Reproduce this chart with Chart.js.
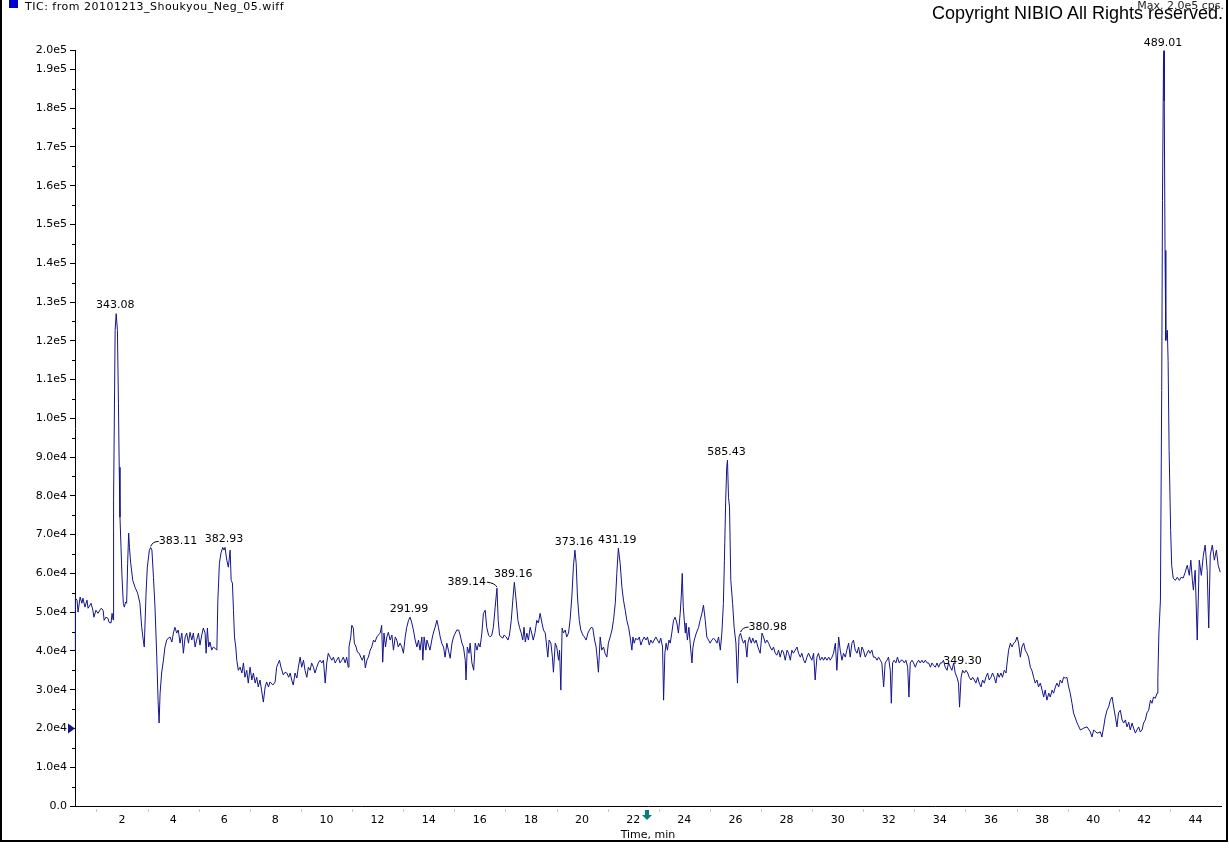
<!DOCTYPE html>
<html><head><meta charset="utf-8">
<script src="https://cdn.jsdelivr.net/npm/chart.js@4.4.1/dist/chart.umd.min.js"></script>
<style>
html,body{margin:0;padding:0;background:#fff;}
#wrap{position:relative;width:1229px;height:862px;overflow:hidden;background:#fff;}
#frame{position:absolute;left:0;top:0;width:1224px;height:840px;border-left:2px solid #000;border-right:2px solid #000;border-bottom:2px solid #000;}
#c{position:absolute;left:0;top:0;}
#sq{position:absolute;left:9px;top:0px;width:9px;height:8px;background:#0000cc;}
#tic{position:absolute;left:25px;top:0px;font:11px "DejaVu Sans",sans-serif;color:#000;line-height:14px;letter-spacing:0.5px;}
#copy{position:absolute;left:932px;top:2px;font:18px "Liberation Sans",Arial,sans-serif;color:#000;line-height:22px;white-space:nowrap;}
#max{position:absolute;right:5px;top:-1px;font:11px "DejaVu Sans",sans-serif;color:#222;line-height:14px;white-space:nowrap;}
</style></head>
<body>
<div id="wrap">
<canvas id="c" width="1229" height="862" style="width:1229px;height:862px"></canvas>
<div id="frame"></div>
<div id="sq"></div>
<div id="tic">TIC: from 20101213_Shoukyou_Neg_05.wiff</div>
<div id="copy">Copyright NIBIO All Rights reserved.</div>
<div id="max">Max. 2.0e5 cps.</div>
</div>
<script>
// [time (min), intensity (cps)]
const tracePoints = [
[0.16,39900],[0.17,47000],[0.18,53600],[0.24,53100],[0.28,50000],[0.36,53900],[0.43,52300],[0.47,53600],[0.55,51300],[0.63,53100],[0.67,51000],
[0.79,52300],[0.86,50500],[0.90,48700],[0.98,50500],[1.06,49700],[1.18,51000],[1.26,50500],[1.30,47900],[1.37,48700],[1.45,48400],
[1.49,47400],[1.57,47200],[1.61,49700],[1.65,48000],[1.67,78900],[1.73,122700],[1.77,127000],[1.82,122700],[1.86,103900],[1.89,87400],
[1.92,74500],[1.96,66700],[2.00,59000],[2.05,52300],[2.09,51300],[2.14,52600],[2.18,52300],[2.22,62600],[2.26,70400],[2.29,66700],
[2.34,62600],[2.42,58200],[2.51,56400],[2.61,54900],[2.70,52300],[2.77,46100],[2.83,42800],[2.87,41000],[2.94,54900],[2.99,61600],
[3.07,66000],[3.12,66700],[3.17,66000],[3.23,59000],[3.29,51300],[3.36,38400],[3.41,27300],[3.45,21400],[3.49,29100],[3.55,34300],
[3.62,37600],[3.68,41000],[3.75,42800],[3.81,43300],[3.88,43600],[3.95,42300],[4.01,44600],[4.07,46100],[4.14,44600],[4.20,45400],
[4.27,42000],[4.34,44600],[4.40,39400],[4.47,43600],[4.53,44600],[4.60,42000],[4.66,44800],[4.73,42800],[4.79,44600],[4.86,41000],
[4.92,42800],[4.99,44600],[5.05,41500],[5.12,44100],[5.18,45900],[5.25,44600],[5.29,39400],[5.34,45900],[5.39,41000],[5.44,42300],
[5.51,40200],[5.57,41000],[5.64,40700],[5.71,40200],[5.75,53100],[5.81,62600],[5.87,65200],[5.94,66700],[5.99,66000],[6.03,66700],
[6.10,63400],[6.16,61600],[6.23,66000],[6.27,58200],[6.32,57500],[6.36,50500],[6.40,43600],[6.45,41000],[6.49,37600],[6.55,35000],
[6.62,35800],[6.69,34300],[6.75,36900],[6.81,33200],[6.88,35000],[6.94,31700],[7.01,35800],[7.08,32500],[7.14,34300],[7.21,31700],
[7.27,33200],[7.33,30700],[7.40,32500],[7.53,26800],[7.60,30700],[7.66,32000],[7.73,30700],[7.79,32000],[7.90,31200],[7.99,32000],
[8.05,35800],[8.16,37600],[8.22,35800],[8.31,33800],[8.38,34500],[8.45,34300],[8.52,33200],[8.58,34300],[8.64,32500],[8.70,31200],
[8.77,34300],[8.84,33000],[8.90,35800],[8.97,38400],[9.03,35800],[9.10,37600],[9.16,35000],[9.23,33200],[9.29,35800],[9.36,35000],
[9.42,36900],[9.49,35800],[9.55,34300],[9.62,35800],[9.68,36900],[9.75,37600],[9.82,36900],[9.88,37600],[9.95,31700],[10.01,36900],
[10.07,39400],[10.14,38400],[10.21,37600],[10.27,38400],[10.34,36900],[10.40,37600],[10.47,38400],[10.53,36900],[10.60,37600],[10.66,38400],
[10.73,36900],[10.79,38400],[10.85,35800],[10.88,41000],[10.95,43600],[10.99,46600],[11.05,45900],[11.09,42000],[11.16,41000],[11.21,39700],
[11.28,39400],[11.34,38400],[11.40,37600],[11.47,38900],[11.52,35600],[11.58,37600],[11.64,38400],[11.71,40200],[11.77,41000],[11.84,42800],
[11.90,42300],[11.97,43600],[12.03,44100],[12.10,44600],[12.16,46600],[12.20,37100],[12.25,44600],[12.31,41000],[12.36,43600],[12.42,44800],
[12.49,42800],[12.56,44100],[12.62,40200],[12.69,43600],[12.75,42800],[12.81,41000],[12.88,42000],[12.95,41000],[13.01,39400],[13.08,43600],
[13.14,46100],[13.21,47900],[13.27,48700],[13.34,47200],[13.40,45400],[13.47,42800],[13.54,41000],[13.60,42800],[13.66,40200],[13.73,43600],
[13.77,37600],[13.82,43600],[13.89,40200],[13.93,42800],[13.99,41500],[14.05,40200],[14.12,42800],[14.18,44600],[14.25,46100],[14.32,47900],
[14.38,46100],[14.45,43600],[14.51,42000],[14.58,41000],[14.64,38400],[14.71,42000],[14.77,40200],[14.84,38100],[14.91,42000],[14.97,43600],
[15.04,44600],[15.10,45400],[15.17,45400],[15.23,44100],[15.30,42000],[15.36,41000],[15.43,37600],[15.46,32500],[15.51,41000],[15.58,39400],
[15.62,42000],[15.69,36900],[15.76,35000],[15.82,42000],[15.89,40200],[15.95,42000],[16.01,41000],[16.08,44600],[16.14,49700],[16.21,50500],
[16.27,46100],[16.34,44100],[16.41,43600],[16.47,44100],[16.53,46100],[16.60,51300],[16.67,56200],[16.72,47900],[16.77,44100],[16.83,43600],
[16.90,43300],[16.95,44100],[17.03,43600],[17.10,42800],[17.16,44100],[17.23,47900],[17.29,53100],[17.35,57700],[17.42,53100],[17.49,47900],
[17.55,46100],[17.62,44600],[17.68,42800],[17.73,46100],[17.78,42300],[17.84,44600],[17.90,42800],[17.97,46100],[18.03,44600],[18.09,42800],
[18.16,44800],[18.23,47900],[18.29,47200],[18.36,49700],[18.43,47200],[18.49,45400],[18.56,44600],[18.62,41000],[18.66,38400],[18.71,42800],
[18.78,42000],[18.84,38400],[18.88,34500],[18.95,42000],[19.01,41000],[19.08,37600],[19.12,40200],[19.17,29900],[19.22,45900],[19.27,44600],
[19.34,45400],[19.40,43600],[19.47,44600],[19.53,47900],[19.60,53900],[19.66,61600],[19.72,66000],[19.77,62600],[19.82,53900],[19.89,47900],
[19.95,45400],[20.03,44100],[20.09,43600],[20.16,42800],[20.23,44600],[20.29,45400],[20.36,46100],[20.42,45900],[20.49,42800],[20.55,41000],
[20.60,37600],[20.64,34500],[20.71,43600],[20.77,40200],[20.84,41000],[20.90,39400],[20.97,38400],[21.03,42000],[21.10,43600],[21.17,45400],
[21.23,47900],[21.30,52300],[21.36,60000],[21.42,66500],[21.49,62600],[21.56,56400],[21.62,53100],[21.69,50500],[21.75,47900],[21.82,46100],
[21.88,43600],[21.95,40200],[21.99,43600],[22.04,42000],[22.10,43300],[22.17,42800],[22.24,43600],[22.30,41500],[22.37,42800],[22.43,43600],
[22.50,42800],[22.56,43600],[22.63,41500],[22.69,42800],[22.76,42000],[22.82,42800],[22.89,43600],[22.95,42800],[23.02,42000],[23.08,43300],
[23.15,41000],[23.19,27300],[23.24,39400],[23.29,42000],[23.34,40200],[23.40,42800],[23.45,42000],[23.51,44600],[23.58,47900],[23.64,48700],
[23.71,47200],[23.77,44600],[23.84,49700],[23.88,53900],[23.92,60000],[23.96,51300],[24.00,47900],[24.04,44600],[24.07,47200],[24.12,42800],
[24.18,46100],[24.23,42000],[24.30,36900],[24.34,41000],[24.39,42800],[24.47,44600],[24.56,46100],[24.62,47900],[24.69,49700],[24.75,51800],
[24.82,47900],[24.88,43600],[24.95,42800],[25.01,42000],[25.08,42800],[25.14,43300],[25.21,42800],[25.28,42000],[25.34,43600],[25.41,40200],
[25.47,44600],[25.53,52300],[25.57,63400],[25.62,78900],[25.66,87400],[25.69,89200],[25.73,79600],[25.77,77100],[25.82,58200],[25.89,52300],
[25.95,46100],[26.02,42000],[26.08,31700],[26.14,43600],[26.20,44600],[26.27,42800],[26.32,42000],[26.38,42800],[26.45,38400],[26.49,42000],
[26.55,43600],[26.62,42000],[26.68,43300],[26.75,42000],[26.81,42800],[26.88,41000],[26.97,39400],[27.04,44600],[27.10,43600],[27.17,42000],
[27.23,42800],[27.30,42000],[27.36,41000],[27.43,40200],[27.49,41000],[27.56,39400],[27.62,38900],[27.69,40200],[27.75,38400],[27.82,40200],
[27.88,39700],[27.95,37600],[28.02,40200],[28.08,39400],[28.15,37600],[28.21,40200],[28.27,39400],[28.34,40200],[28.41,41000],[28.47,39400],
[28.54,38400],[28.60,39400],[28.67,37600],[28.73,36900],[28.80,38400],[28.86,39400],[28.93,38400],[28.99,37600],[29.06,39400],[29.12,32500],
[29.19,38400],[29.25,39400],[29.32,37600],[29.39,38400],[29.45,37600],[29.51,38400],[29.58,37600],[29.65,38400],[29.71,37600],[29.78,38400],
[29.84,39400],[29.91,42000],[29.97,35000],[30.04,43600],[30.10,40200],[30.17,37600],[30.23,39400],[30.30,38400],[30.36,40200],[30.43,42000],
[30.49,38400],[30.56,42000],[30.62,42800],[30.69,40200],[30.76,39400],[30.82,41000],[30.89,38400],[30.95,41000],[31.01,40200],[31.08,38400],
[31.15,39400],[31.21,40200],[31.27,39400],[31.34,40200],[31.40,38400],[31.47,38400],[31.54,37600],[31.60,38400],[31.67,37600],[31.73,36900],
[31.80,30700],[31.86,36900],[31.93,37600],[31.99,38400],[32.06,35000],[32.10,26500],[32.15,36900],[32.21,37600],[32.28,36900],[32.34,38400],
[32.41,36900],[32.48,37600],[32.54,37600],[32.61,36900],[32.67,37600],[32.74,35800],[32.79,28100],[32.84,36900],[32.91,37600],[32.97,36900],
[33.04,35800],[33.10,36900],[33.17,37600],[33.23,36900],[33.30,37600],[33.36,36900],[33.43,37600],[33.50,36900],[33.56,36900],[33.63,35800],
[33.69,36900],[33.75,36300],[33.82,35800],[33.89,36900],[33.95,35800],[34.02,36900],[34.08,36900],[34.14,37600],[34.21,35800],[34.28,35000],
[34.34,36900],[34.41,35800],[34.47,35000],[34.54,36900],[34.60,34300],[34.67,33200],[34.73,31700],[34.77,25500],[34.83,33200],[34.89,35000],
[34.96,34300],[35.02,35000],[35.09,34300],[35.15,33200],[35.22,32500],[35.28,33200],[35.35,32500],[35.41,31700],[35.48,33200],[35.54,31700],
[35.61,30700],[35.67,32500],[35.74,31700],[35.80,33200],[35.87,34300],[35.93,32500],[36.00,33200],[36.06,34300],[36.13,33200],[36.19,31700],
[36.26,34300],[36.32,33200],[36.39,34300],[36.45,33200],[36.52,35000],[36.59,34300],[36.63,36900],[36.69,40200],[36.76,42000],[36.82,41000],
[36.89,42000],[36.95,42300],[37.02,43600],[37.08,42000],[37.15,38400],[37.21,41000],[37.28,42000],[37.34,40200],[37.41,39400],[37.47,38400],
[37.54,35800],[37.60,35000],[37.67,33200],[37.73,31700],[37.80,32500],[37.86,30700],[37.93,31700],[38.00,29900],[38.06,28100],[38.12,29900],
[38.19,27300],[38.26,29100],[38.32,28100],[38.39,29900],[38.45,29100],[38.52,30700],[38.58,31700],[38.65,30700],[38.71,32500],[38.78,31700],
[38.84,33200],[38.91,33000],[38.97,33200],[39.04,30700],[39.10,29100],[39.17,26500],[39.23,24000],[39.37,21400],[39.50,19600],[39.63,20100],
[39.76,20400],[39.89,19100],[39.95,17800],[40.02,19600],[40.15,18800],[40.28,19100],[40.34,17800],[40.41,20400],[40.47,22900],[40.54,24700],
[40.60,25500],[40.67,27300],[40.74,28100],[40.80,25500],[40.87,22900],[40.93,20400],[40.99,24000],[41.06,24700],[41.13,22200],[41.19,21400],
[41.26,22200],[41.32,20400],[41.39,21600],[41.45,19600],[41.52,21400],[41.58,20100],[41.65,18800],[41.71,19600],[41.78,20400],[41.84,19100],
[41.91,19600],[41.97,21400],[42.04,22200],[42.10,24000],[42.17,24700],[42.24,27300],[42.30,26500],[42.36,28100],[42.43,27800],[42.50,29100],
[42.53,33200],[42.57,44600],[42.63,53100],[42.68,107200],[42.71,156200],[42.75,192200],[42.77,194800],[42.78,181900],[42.81,143300],[42.84,120100],
[42.87,121400],[42.90,122700],[42.93,114900],[42.97,91700],[43.03,71100],[43.07,62100],[43.13,58800],[43.21,58200],[43.29,59000],[43.37,58200],
[43.44,59000],[43.52,58800],[43.60,60300],[43.68,62100],[43.76,59500],[43.82,63400],[43.88,58200],[43.92,55700],[43.99,60800],[44.07,42800],
[44.15,63400],[44.23,59500],[44.31,64700],[44.38,67300],[44.46,60800],[44.52,45900],[44.58,64700],[44.66,67300],[44.74,63400],[44.82,66000],
[44.89,62100],[44.97,60300]
];

const xTickValues = [2,4,6,8,10,12,14,16,18,20,22,24,26,28,30,32,34,36,38,40,42,44];
const xMinorTicks = [1,3,5,7,9,11,13,15,17,19,21,23,25,27,29,31,33,35,37,39,41,43];
const yTickValues = [0,10000,20000,30000,40000,50000,60000,70000,80000,90000,100000,110000,120000,130000,140000,150000,160000,170000,180000,190000,195000];
const yTickLabels = ['0.0','1.0e4','2.0e4','3.0e4','4.0e4','5.0e4','6.0e4','7.0e4','8.0e4','9.0e4','1.0e5','1.1e5','1.2e5','1.3e5','1.4e5','1.5e5','1.6e5','1.7e5','1.8e5','1.9e5','2.0e5'];
const yMinorTicks = [5000,15000,25000,35000,45000,55000,65000,75000,85000,95000,105000,115000,125000,135000,145000,155000,165000,175000,185000];

const peakTimes  = [1.77, 3.12, 6.03, 13.27, 16.67, 17.35, 19.72, 21.42, 25.69, 26.20, 34.21, 42.77];
const peakValues = [127000, 66700, 66700, 48700, 56200, 57700, 66000, 66500, 89200, 44600, 35800, 194800];
const peakLabels = ['343.08','383.11','382.93','291.99','389.14','389.16','373.16','431.19','585.43','380.98','349.30','489.01'];
const peakLabelPlacement = ['top','leaderRight','top','top','leaderLeft','top','top','top','top','leaderRight','right','top'];

const thresholdMarkerValue = 20000;   // blue triangle on the intensity axis
const timeMarkerValue = 22.55;        // teal arrow under the time axis

const LABEL_FONT = '11px "DejaVu Sans", sans-serif';

const annotPlugin = {
  id: 'annot',
  afterDraw(chart) {
    const {ctx, chartArea: ca, scales: {x, y}} = chart;
    ctx.save();
    ctx.strokeStyle = '#000'; ctx.lineWidth = 1;
    yMinorTicks.forEach(v => {
      const py = Math.round(y.getPixelForValue(v)) + 0.5;
      ctx.beginPath(); ctx.moveTo(ca.left - 3, py); ctx.lineTo(ca.left, py); ctx.stroke();
    });
    ctx.strokeStyle = '#c8c8c8';
    xMinorTicks.forEach(t => {
      const px = Math.round(x.getPixelForValue(t)) + 0.5;
      ctx.beginPath(); ctx.moveTo(px, ca.bottom + 3); ctx.lineTo(px, ca.bottom + 6); ctx.stroke();
    });
    ctx.font = LABEL_FONT; ctx.fillStyle = '#000'; ctx.strokeStyle = '#000';
    ctx.textBaseline = 'middle';
    peakLabels.forEach((txt, i) => {
      const px = x.getPixelForValue(peakTimes[i]);
      const py = y.getPixelForValue(peakValues[i]);
      const p = peakLabelPlacement[i];
      if (p === 'top') {
        ctx.textAlign = 'center'; ctx.fillText(txt, px - 1, py - 8);
      } else if (p === 'leaderRight') {
        ctx.beginPath(); ctx.moveTo(px, py - 1); ctx.quadraticCurveTo(px + 2, py - 6, px + 8, py - 6); ctx.stroke();
        ctx.textAlign = 'left'; ctx.fillText(txt, px + 8, py - 6);
      } else if (p === 'leaderLeft') {
        ctx.beginPath(); ctx.moveTo(px, py - 1); ctx.quadraticCurveTo(px - 2, py - 5, px - 10, py - 6); ctx.stroke();
        ctx.textAlign = 'right'; ctx.fillText(txt, px - 11, py - 6);
      } else {
        ctx.textAlign = 'left'; ctx.fillText(txt, px - 2, py - 6);
      }
    });
    const ty = y.getPixelForValue(thresholdMarkerValue);
    ctx.fillStyle = '#14148c';
    ctx.beginPath(); ctx.moveTo(ca.left - 7, ty - 5); ctx.lineTo(ca.left, ty); ctx.lineTo(ca.left - 7, ty + 5); ctx.closePath(); ctx.fill();
    const ax = Math.round(x.getPixelForValue(timeMarkerValue));
    ctx.fillStyle = '#0b7d7d';
    ctx.fillRect(ax - 2, ca.bottom + 4, 4, 5);
    ctx.beginPath(); ctx.moveTo(ax - 5, ca.bottom + 9); ctx.lineTo(ax + 5, ca.bottom + 9); ctx.lineTo(ax, ca.bottom + 14); ctx.closePath(); ctx.fill();
    ctx.restore();
  }
};

new Chart(document.getElementById('c'), {
  type: 'scatter',
  data: {
    datasets: [{
      data: tracePoints.map(p => ({x: p[0], y: p[1]})),
      showLine: true,
      borderColor: '#14148c',
      borderWidth: 1,
      pointRadius: 0,
      tension: 0,
      clip: 3
    }]
  },
  options: {
    responsive: false,
    animation: false,
    events: [],
    layout: {padding: {left: 0, top: 50, right: 8, bottom: 16}},
    plugins: {legend: {display: false}, tooltip: {enabled: false}, title: {display: false}},
    scales: {
      x: {
        type: 'linear', position: 'bottom', min: 0.16, max: 45,
        afterBuildTicks: s => { s.ticks = xTickValues.map(v => ({value: v})); },
        afterFit: s => { s.height = 40; },
        ticks: {autoSkip: false, maxRotation: 0, color: '#000', padding: 2,
                font: {family: 'DejaVu Sans', size: 11}, callback: v => String(v)},
        grid: {drawOnChartArea: false, drawTicks: true, tickLength: 6, tickColor: 'rgba(0,0,0,0)'},
        border: {color: '#000', width: 1},
        title: {display: true, text: 'Time, min', color: '#000',
                font: {family: 'DejaVu Sans', size: 11}, padding: {top: 0, bottom: 4}}
      },
      y: {
        type: 'linear', position: 'left', min: 0, max: 195000,
        afterBuildTicks: s => { s.ticks = yTickValues.map(v => ({value: v})); },
        afterFit: s => { s.width = 75; },
        ticks: {autoSkip: false, color: '#000', padding: 3,
                font: {family: 'DejaVu Sans', size: 11},
                callback: v => yTickLabels[yTickValues.indexOf(v)]},
        grid: {drawOnChartArea: false, tickLength: 5, tickColor: '#000'},
        border: {color: '#000', width: 1}
      }
    }
  },
  plugins: [annotPlugin]
});
</script>
</body></html>
